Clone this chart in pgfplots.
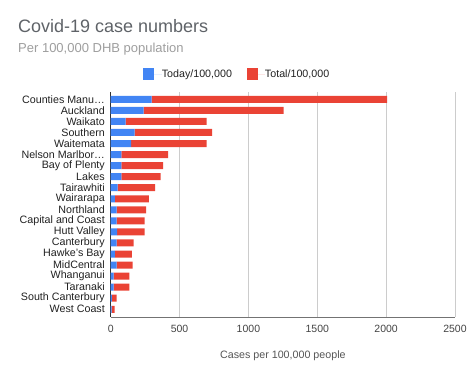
\documentclass[border=0pt]{standalone}
\usepackage{fontspec}
\setmainfont{Liberation Sans}
\usepackage{pgfplots}
\pgfplotsset{compat=1.18}
\usepackage{pgfplotstable}
\definecolor{gblue}{HTML}{4285F4}
\definecolor{gred}{HTML}{EA4335}
\definecolor{gridc}{HTML}{CCCCCC}
\definecolor{titlec}{HTML}{5F6368}
\definecolor{subc}{HTML}{9E9E9E}
\definecolor{tickc}{HTML}{444444}
\definecolor{labc}{HTML}{555555}

\pgfplotstableread{
y today total
0 297 1710
1 239 1017
2 109 587
3 174 562
4 149 547
5 77 340
6 77 304
7 77 285
8 51 272
9 31 247
10 43 215
11 43 203
12 46 200
13 43 124
14 31 123
15 43 116
16 22 113
17 22 113
18 9 34
19 7 22
}\datatable

\begin{document}
\begin{tikzpicture}[x=1pt,y=1pt]
\path[use as bounding box] (-110.7pt,-58pt) rectangle (363.3pt,317pt);
\node[anchor=base west, font=\fontsize{18}{20}\selectfont, text=titlec, inner sep=0pt] at (-92.7pt,284pt) {Covid-19 case numbers};
\node[anchor=base west, font=\fontsize{13}{15}\selectfont, text=subc, inner sep=0pt] at (-92.7pt,264pt) {Per 100,000 DHB population};
\begin{axis}[
  at={(0pt,0pt)}, anchor=south west,
  scale only axis, width=344.3pt, height=225pt,
  xbar stacked, bar width=7pt,
  y dir=reverse,
  ymin=-0.66, ymax=19.7,
  xmin=0, xmax=2500,
  xtick={0,500,1000,1500,2000,2500},
  ytick={0,...,19},
  yticklabels={Counties Manu…,Auckland,Waikato,Southern,Waitemata,Nelson Marlbor…,Bay of Plenty,Lakes,Tairawhiti,Wairarapa,Northland,Capital and Coast,Hutt Valley,Canterbury,Hawke's Bay,MidCentral,Whanganui,Taranaki,South Canterbury,West Coast},
  /pgf/number format/assume math mode=true,
  /pgf/number format/1000 sep={},
  scaled x ticks=false,
  xmajorgrids, grid style={gridc, line width=1pt},
  major tick length=0pt,
  axis line style={draw=none},
  yticklabel style={anchor=east, inner sep=0pt, xshift=-5.7pt, font=\fontsize{10.7}{12}\selectfont, text=black!87},
  xticklabel style={anchor=base, inner sep=0pt, yshift=-15pt, font=\fontsize{10.5}{12}\selectfont, text=tickc},
  xlabel={Cases per 100,000 people},
  xlabel style={at={(axis description cs:0.5,0)}, anchor=base, yshift=-41pt, font=\fontsize{10.7}{12}\selectfont, text=labc, inner sep=0pt},
  legend columns=2,
  legend style={draw=none, fill=none, at={(axis description cs:0.364,1.08)}, anchor=center,
    font=\fontsize{10.7}{12}\selectfont, text=black!87,
    /tikz/every even column/.append style={column sep=15pt},
    nodes={inner sep=0pt}},
  legend cell align=left,
  clip=false,
]
\addplot[fill=gblue, draw=none, legend image code/.code={\fill[gblue] (0pt,-6pt) rectangle (11pt,6pt); \path (11pt,0pt) -- (19pt,0pt);}] table[x=today, y=y] {\datatable};
\addlegendentry{Today/100,000}
\addplot[fill=gred, draw=none, legend image code/.code={\fill[gred] (0pt,-6pt) rectangle (11pt,6pt); \path (11pt,0pt) -- (18pt,0pt);}] table[x=total, y=y] {\datatable};
\addlegendentry{Total/100,000}
\draw[black!55, line width=0.8pt] (rel axis cs:0,0) -- (rel axis cs:1,0);
\draw[black!80, line width=0.8pt] (axis cs:0,-0.66) -- (axis cs:0,19.7);
\end{axis}
\end{tikzpicture}
\end{document}
